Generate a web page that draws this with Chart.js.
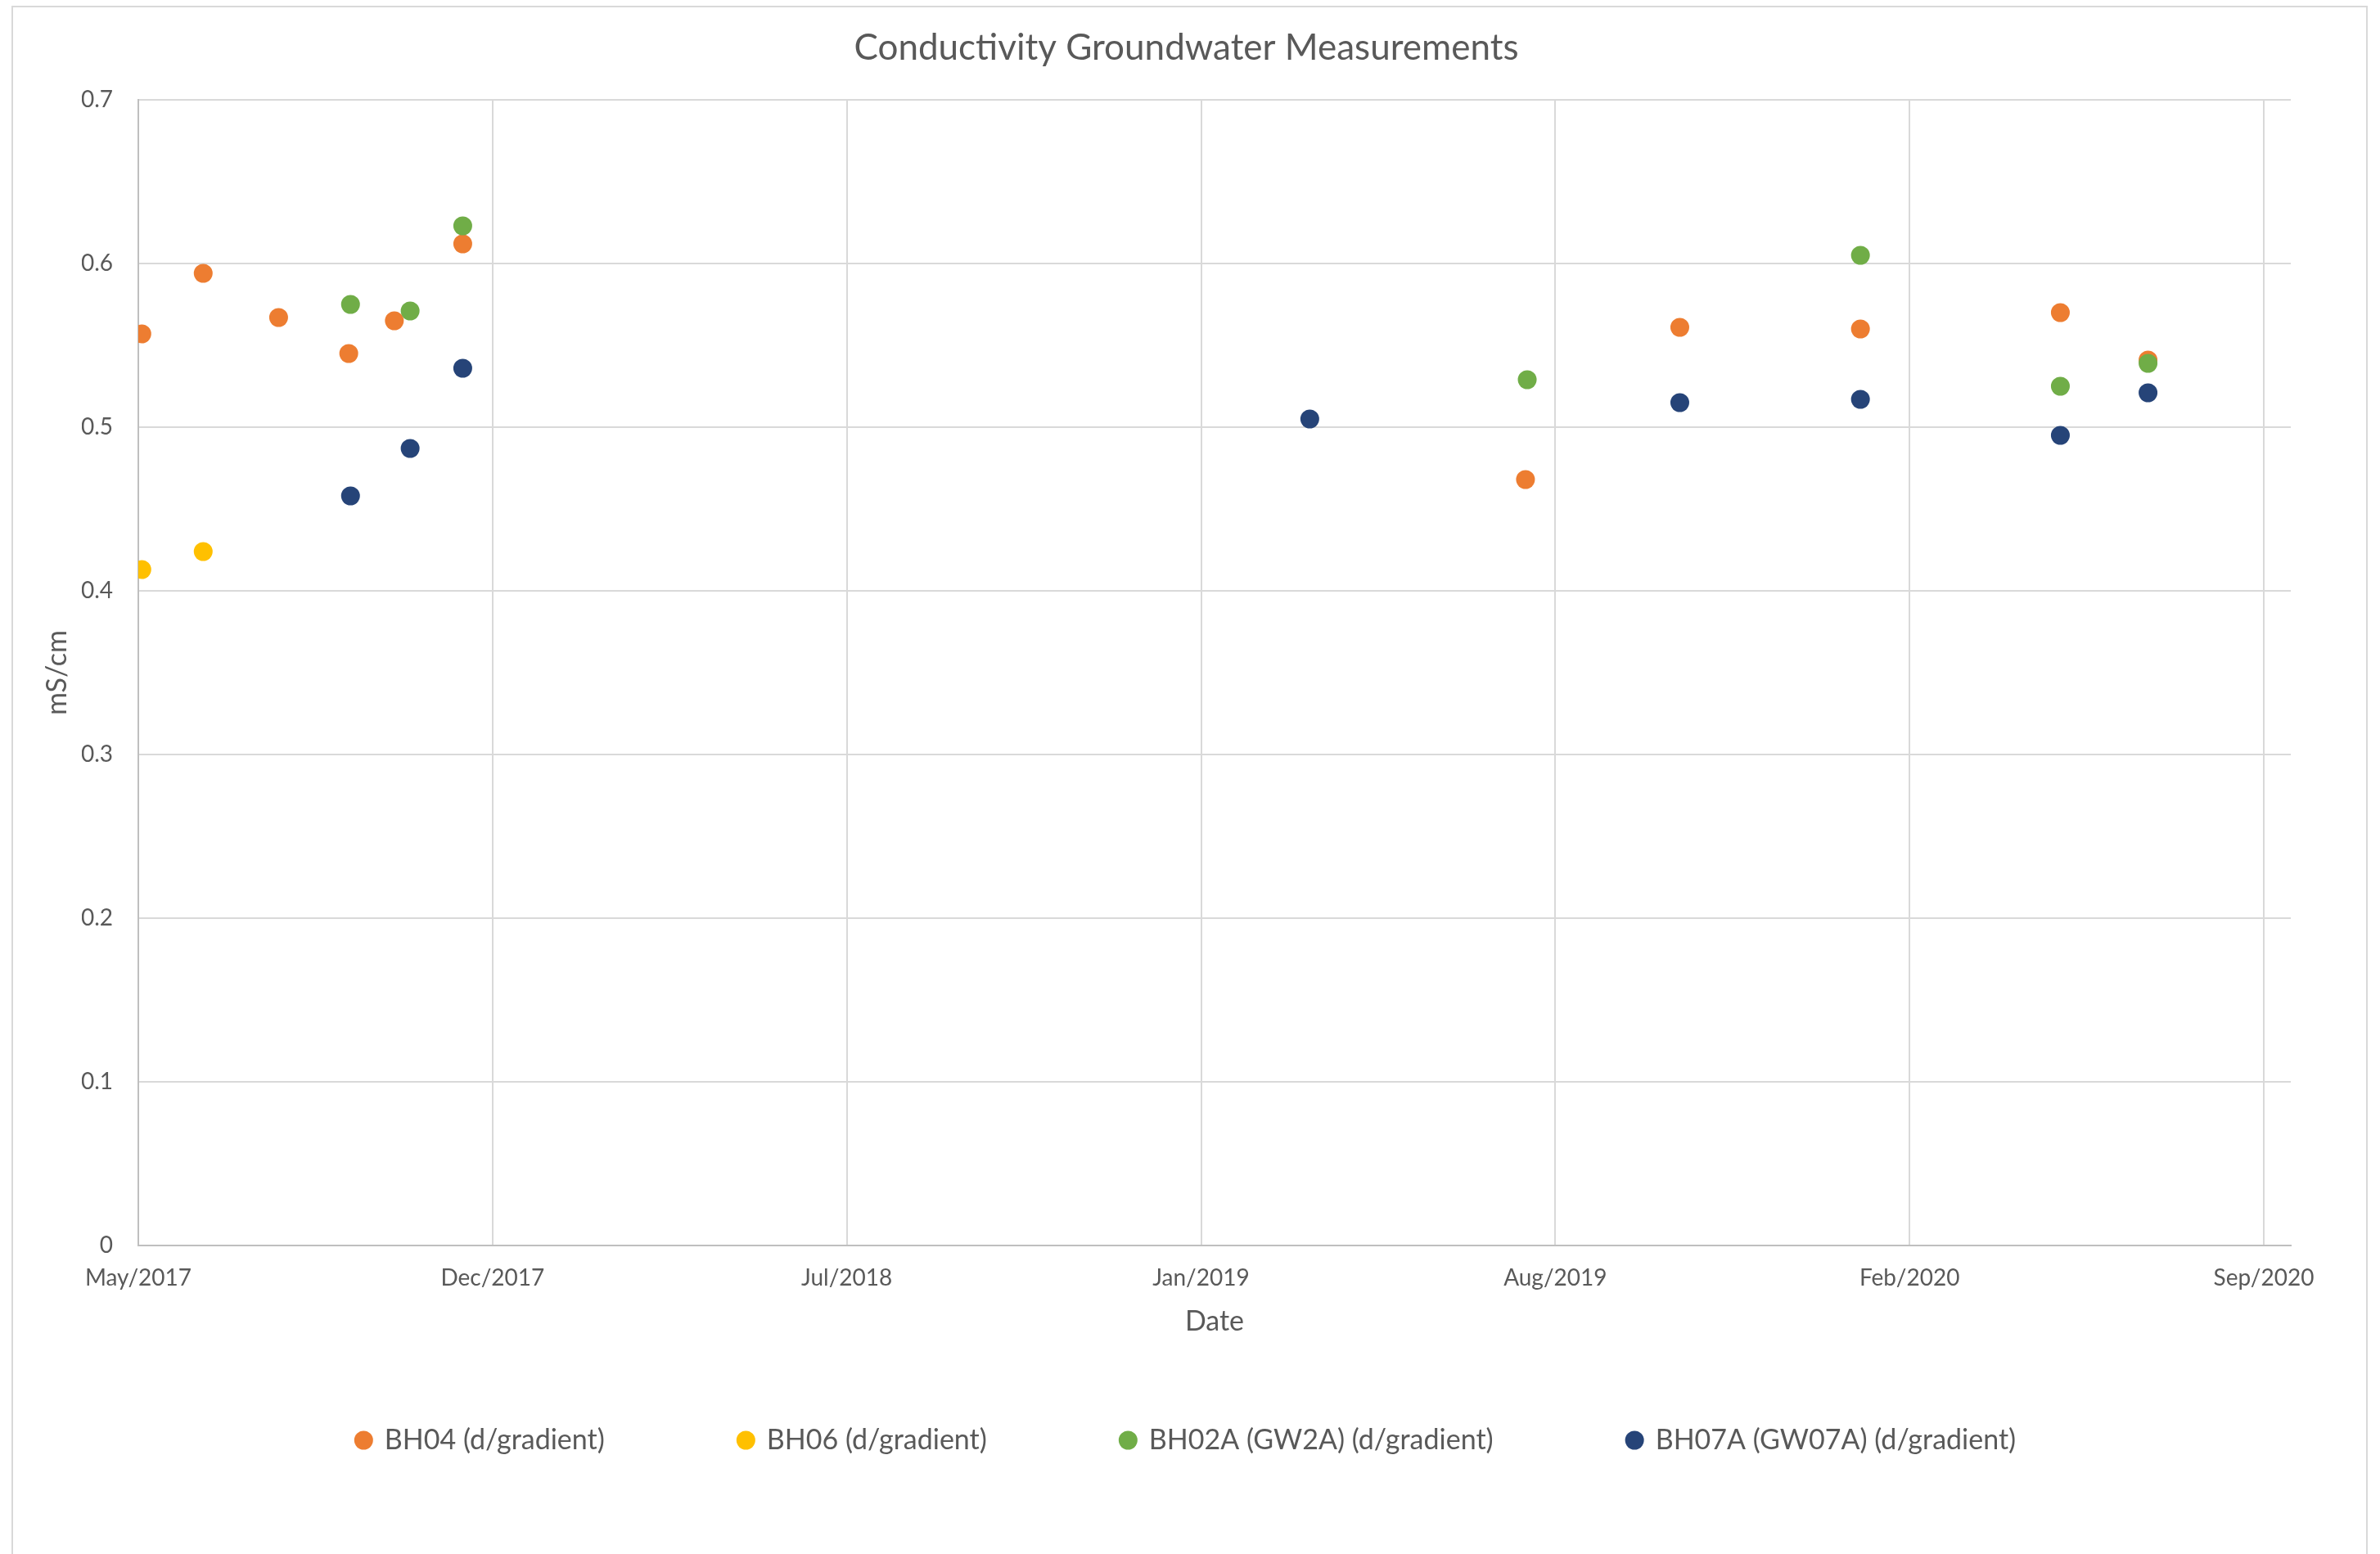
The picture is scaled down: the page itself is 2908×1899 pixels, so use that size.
<!DOCTYPE html>
<html>
<head>
<meta charset="utf-8">
<script src="https://cdn.jsdelivr.net/npm/chart.js@4/dist/chart.umd.min.js"></script>
<style>
  html, body { margin: 0; padding: 0; background: #ffffff; }
  #wrap { position: relative; width: 2908px; height: 1899px; }
</style>
</head>
<body>
<div id="wrap"><canvas id="c"></canvas></div>
<script>
// ---------------- DATA ----------------
const chartTitle = 'Conductivity Groundwater Measurements';
const xAxisTitle = 'Date';
const yAxisTitle = 'mS/cm';
const seriesNames = ['BH04 (d/gradient)', 'BH06 (d/gradient)', 'BH02A (GW2A) (d/gradient)', 'BH07A (GW07A) (d/gradient)'];

const bh04Dates  = ['2017-05-27', '2017-07-01', '2017-08-13', '2017-09-22', '2017-10-18', '2017-11-26', '2019-07-25', '2019-10-21', '2020-02-01', '2020-05-25', '2020-07-14'];
const bh04Values = [0.557, 0.594, 0.567, 0.545, 0.565, 0.612, 0.468, 0.561, 0.560, 0.570, 0.541];

const bh06Dates  = ['2017-05-27', '2017-07-01'];
const bh06Values = [0.413, 0.424];

const bh02aDates  = ['2017-09-23', '2017-10-27', '2017-11-26', '2019-07-26', '2020-02-01', '2020-05-25', '2020-07-14'];
const bh02aValues = [0.575, 0.571, 0.623, 0.529, 0.605, 0.525, 0.539];

const bh07aDates  = ['2017-09-23', '2017-10-27', '2017-11-26', '2019-03-24', '2019-10-21', '2020-02-01', '2020-05-25', '2020-07-14'];
const bh07aValues = [0.458, 0.487, 0.536, 0.505, 0.515, 0.517, 0.495, 0.521];

const xTickLabels = ['May/2017', 'Dec/2017', 'Jul/2018', 'Jan/2019', 'Aug/2019', 'Feb/2020', 'Sep/2020'];
const yTickLabels = ['0', '0.1', '0.2', '0.3', '0.4', '0.5', '0.6', '0.7'];

// axis settings
const xAxisStartDate = '2017-05-25';
const xTickStepDays = 202;
const xAxisSpanDays = 1227.4;
const yMin = 0, yMax = 0.7, yStep = 0.1;

// ---------------- STYLE ----------------
const seriesColors = ['#ED7D31', '#FFC000', '#70AD47', '#264478'];
const textColor = '#595959';
const FONT = "Lato, 'Open Sans', sans-serif";

function toDay(s) {
  const [y, m, d] = s.split('-').map(Number);
  return Date.UTC(y, m - 1, d) / 86400000;
}
function toPoints(dates, values) {
  return dates.map((d, i) => ({ x: toDay(d), y: values[i] }));
}
const x0 = toDay(xAxisStartDate);

const seriesDates = [bh04Dates, bh06Dates, bh02aDates, bh07aDates];
const seriesValues = [bh04Values, bh06Values, bh02aValues, bh07aValues];

const datasets = seriesNames.map((name, i) => ({
  label: name,
  data: toPoints(seriesDates[i], seriesValues[i]),
  backgroundColor: seriesColors[i],
  borderColor: seriesColors[i],
  pointBackgroundColor: seriesColors[i],
  pointBorderWidth: 0,
  pointRadius: 11.5,
  pointHoverRadius: 11.5,
  pointStyle: 'circle',
  showLine: false,
  order: seriesNames.length - i
}));

const chartBorder = {
  id: 'chartBorder',
  beforeDraw(chart) {
    const ctx = chart.ctx;
    ctx.save();
    ctx.fillStyle = '#ffffff';
    ctx.fillRect(0, 0, chart.width, chart.height);
    ctx.strokeStyle = '#d9d9d9';
    ctx.lineWidth = 2;
    ctx.strokeRect(15, 8, 2877, 2000);
    ctx.restore();
  }
};

Chart.defaults.font.family = FONT;
Chart.defaults.color = textColor;

new Chart(document.getElementById('c'), {
  type: 'scatter',
  data: { datasets },
  plugins: [chartBorder],
  options: {
    responsive: true,
    maintainAspectRatio: false,
    animation: false,
    devicePixelRatio: 1,
    events: [],
    layout: {
      padding: { left: 100, right: 109, top: 0, bottom: 112 },
      autoPadding: false
    },
    plugins: {
      title: {
        display: true,
        text: chartTitle,
        color: textColor,
        font: { family: FONT, size: 44, weight: 'normal' },
        padding: { top: 32.6, bottom: 36.6 }
      },
      legend: {
        display: true,
        position: 'bottom',
        labels: {
          usePointStyle: true,
          pointStyle: 'circle',
          boxWidth: 17,
          boxHeight: 16.26,
          padding: 164,
          color: textColor,
          font: { family: FONT, size: 34 },
          sort: (a, b) => a.datasetIndex - b.datasetIndex
        }
      },
      tooltip: { enabled: false }
    },
    scales: {
      x: {
        type: 'linear',
        position: 'bottom',
        min: x0,
        max: x0 + xAxisSpanDays,
        afterBuildTicks: (scale) => {
          scale.ticks = xTickLabels.map((_, i) => ({ value: x0 + i * xTickStepDays }));
        },
        ticks: {
          callback: (v, i) => xTickLabels[i],
          padding: 23,
          autoSkip: false,
          maxRotation: 0,
          minRotation: 0,
          color: textColor,
          font: { family: FONT, size: 28 }
        },
        grid: { color: '#d9d9d9', lineWidth: 2, drawTicks: false },
        border: { color: '#bfbfbf', width: 2 },
        title: {
          display: true,
          text: xAxisTitle,
          color: textColor,
          font: { family: FONT, size: 34 },
          padding: { top: 0, bottom: -56.4 }
        },
        afterFit: (s) => { s.height = 57; s.paddingLeft = 0; s.paddingRight = 0; }
      },
      y: {
        type: 'linear',
        position: 'left',
        min: yMin,
        max: yMax,
        afterBuildTicks: (scale) => {
          scale.ticks = yTickLabels.map((_, i) => ({ value: yMin + i * yStep }));
        },
        ticks: {
          callback: (v, i) => yTickLabels[i],
          padding: 31,
          color: textColor,
          font: { family: FONT, size: 28 }
        },
        grid: { color: '#d9d9d9', lineWidth: 2, drawTicks: false },
        border: { color: '#bfbfbf', width: 2 },
        title: {
          display: true,
          text: yAxisTitle,
          color: textColor,
          font: { family: FONT, size: 34 },
          padding: { top: -50.4, bottom: 0 }
        },
        afterFit: (s) => { s.width = 69; s.paddingTop = 0; s.paddingBottom = 0; }
      }
    }
  }
});
</script>
</body>
</html>
